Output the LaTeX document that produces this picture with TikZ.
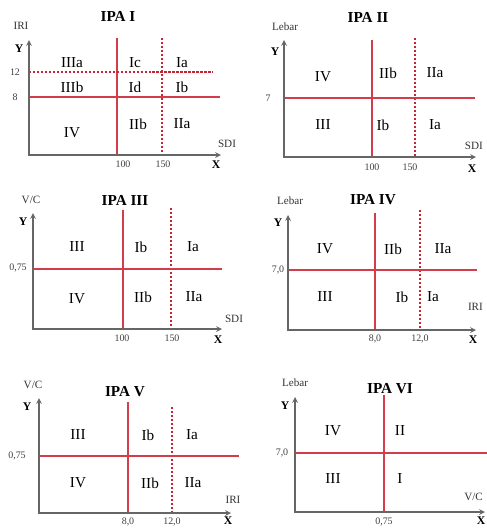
\documentclass[tikz,border=0pt]{standalone}
\usepackage{fontspec}
\setmainfont{Liberation Serif}
\definecolor{cutred}{RGB}{210,60,75}
\definecolor{dashred}{RGB}{200,35,55}
\begin{document}
\begin{tikzpicture}[x=0.03cm, y=-0.03cm, >=stealth,
    axis/.style={<->, draw=black!60, line width=1.2pt},
    cut/.style={draw=cutred, line width=1pt},
    cutd/.style={draw=dashred, line width=1pt, dash pattern=on 2pt off 1.4pt},
    ttl/.style={font=\fontsize{13}{15}\selectfont\bfseries},
    quad/.style={font=\fontsize{13}{15}\selectfont},
    lbl/.style={font=\fontsize{9.5}{11}\selectfont, text=black!80},
    xy/.style={font=\fontsize{10}{12}\selectfont\bfseries},
    tick/.style={font=\fontsize{8.5}{10}\selectfont, text=black!75}]
    \useasboundingbox (0,0) rectangle (487,529);

    % IPA I
    \node[ttl] (P1_title) at (118,16) {IPA I};
    \coordinate (P1_o) at (29,155);
    \coordinate (P1_y) at (29,40);
    \coordinate (P1_x) at (221,155);
    \coordinate (P1_v1) at (117,38);
    \coordinate (P1_v2) at (162,38);
    \coordinate (P1_h1) at (213,72);
    \coordinate (P1_h2) at (220,97);
    \draw[cut] (P1_v1) -- (P1_v1 |- P1_o);
    \draw[cutd] (P1_v2) -- (P1_v2 |- P1_o);
    \draw[cutd] (P1_o |- P1_h1) -- (P1_h1);
    \draw[cut] (P1_o |- P1_h2) -- (P1_h2);
    \draw[axis] (P1_y) |- (P1_x);
    \node[lbl] (P1_ylab) at (21,26) {IRI};
    \node[xy] (P1_Y) at (19,49) {Y};
    \node[lbl] (P1_xlab) at (227,144) {SDI};
    \node[xy] (P1_X) at (216,165) {X};
    \node[tick] (P1_t12) at (15,72) {12};
    \node[tick] (P1_t8) at (15,97) {8};
    \node[tick] (P1_t100) at (123,164) {100};
    \node[tick] (P1_t150) at (163,164) {150};
    \node[quad] (P1_IIIa) at (72,63) {IIIa};
    \node[quad] (P1_Ic) at (135,63) {Ic};
    \node[quad] (P1_Ia) at (182,63) {Ia};
    \node[quad] (P1_IIIb) at (72,87) {IIIb};
    \node[quad] (P1_Id) at (135,87) {Id};
    \node[quad] (P1_Ib) at (182,87) {Ib};
    \node[quad] (P1_IV) at (72,133) {IV};
    \node[quad] (P1_IIb) at (138,124) {IIb};
    \node[quad] (P1_IIa) at (182,124) {IIa};

    % IPA II
    \node[ttl] (P2_title) at (368,17) {IPA II};
    \coordinate (P2_o) at (284,157);
    \coordinate (P2_y) at (284,40);
    \coordinate (P2_x) at (476,157);
    \coordinate (P2_v1) at (372,40);
    \coordinate (P2_v2) at (415,38);
    \coordinate (P2_h) at (475,98);
    \draw[cut] (P2_v1) -- (P2_v1 |- P2_o);
    \draw[cutd] (P2_v2) -- (P2_v2 |- P2_o);
    \draw[cut] (P2_o |- P2_h) -- (P2_h);
    \draw[axis] (P2_y) |- (P2_x);
    \node[lbl] (P2_ylab) at (285,27) {Lebar};
    \node[xy] (P2_Y) at (275,52) {Y};
    \node[lbl, anchor=east] (P2_xlab) at (487,146) {SDI};
    \node[xy] (P2_X) at (472,169) {X};
    \node[tick] (P2_t7) at (268,98) {7};
    \node[tick] (P2_t100) at (372,167) {100};
    \node[tick] (P2_t150) at (410,167) {150};
    \node[quad] (P2_IV) at (323,77) {IV};
    \node[quad] (P2_IIb) at (388,73) {IIb};
    \node[quad] (P2_IIa) at (435,73) {IIa};
    \node[quad] (P2_III) at (323,125) {III};
    \node[quad] (P2_Ib) at (383,125) {Ib};
    \node[quad] (P2_Ia) at (435,125) {Ia};

    % IPA III
    \node[ttl] (P3_title) at (125,200) {IPA III};
    \coordinate (P3_o) at (33,329);
    \coordinate (P3_y) at (33,213);
    \coordinate (P3_x) at (222,329);
    \coordinate (P3_v1) at (123,210);
    \coordinate (P3_v2) at (171,208);
    \coordinate (P3_h) at (222,269);
    \draw[cut] (P3_v1) -- (P3_v1 |- P3_o);
    \draw[cutd] (P3_v2) -- (P3_v2 |- P3_o);
    \draw[cut] (P3_o |- P3_h) -- (P3_h);
    \draw[axis] (P3_y) |- (P3_x);
    \node[lbl] (P3_ylab) at (31,200) {V/C};
    \node[xy] (P3_Y) at (23,222) {Y};
    \node[lbl] (P3_xlab) at (234,319) {SDI};
    \node[xy] (P3_X) at (218,340) {X};
    \node[tick] (P3_t075) at (18,268) {0,75};
    \node[tick] (P3_t100) at (122,338) {100};
    \node[tick] (P3_t150) at (172,338) {150};
    \node[quad] (P3_III) at (77,247) {III};
    \node[quad] (P3_Ib) at (141,247) {Ib};
    \node[quad] (P3_Ia) at (193,247) {Ia};
    \node[quad] (P3_IV) at (77,299) {IV};
    \node[quad] (P3_IIb) at (143,297) {IIb};
    \node[quad] (P3_IIa) at (194,297) {IIa};

    % IPA IV
    \node[ttl] (P4_title) at (373,200) {IPA IV};
    \coordinate (P4_o) at (288,330);
    \coordinate (P4_y) at (288,215);
    \coordinate (P4_x) at (476,330);
    \coordinate (P4_v1) at (375,213);
    \coordinate (P4_v2) at (420,210);
    \coordinate (P4_h) at (477,270);
    \draw[cut] (P4_v1) -- (P4_v1 |- P4_o);
    \draw[cutd] (P4_v2) -- (P4_v2 |- P4_o);
    \draw[cut] (P4_o |- P4_h) -- (P4_h);
    \draw[axis] (P4_y) |- (P4_x);
    \node[lbl] (P4_ylab) at (290,201) {Lebar};
    \node[xy] (P4_Y) at (278,223) {Y};
    \node[lbl, anchor=east] (P4_xlab) at (487,307) {IRI};
    \node[xy] (P4_X) at (473,340) {X};
    \node[tick] (P4_t70) at (278,270) {7,0};
    \node[tick] (P4_t8) at (375,339) {8,0};
    \node[tick] (P4_t12) at (420,339) {12,0};
    \node[quad] (P4_IV) at (325,249) {IV};
    \node[quad] (P4_IIb) at (393,249) {IIb};
    \node[quad] (P4_IIa) at (443,249) {IIa};
    \node[quad] (P4_III) at (325,297) {III};
    \node[quad] (P4_Ib) at (402,297) {Ib};
    \node[quad] (P4_Ia) at (433,297) {Ia};

    % IPA V
    \node[ttl] (P5_title) at (125,392) {IPA V};
    \coordinate (P5_o) at (39,513);
    \coordinate (P5_y) at (39,398);
    \coordinate (P5_x) at (231,513);
    \coordinate (P5_v1) at (128,402);
    \coordinate (P5_v2) at (172,407);
    \coordinate (P5_h) at (239,456);
    \draw[cut] (P5_v1) -- (P5_v1 |- P5_o);
    \draw[cutd] (P5_v2) -- (P5_v2 |- P5_o);
    \draw[cut] (P5_o |- P5_h) -- (P5_h);
    \draw[axis] (P5_y) |- (P5_x);
    \node[lbl] (P5_ylab) at (33,385) {V/C};
    \node[xy] (P5_Y) at (27,407) {Y};
    \node[lbl] (P5_xlab) at (233,500) {IRI};
    \node[xy] (P5_X) at (228,521) {X};
    \node[tick] (P5_t075) at (17,456) {0,75};
    \node[tick] (P5_t8) at (128,522) {8,0};
    \node[tick] (P5_t12) at (172,522) {12,0};
    \node[quad] (P5_III) at (78,435) {III};
    \node[quad] (P5_Ib) at (148,435) {Ib};
    \node[quad] (P5_Ia) at (192,435) {Ia};
    \node[quad] (P5_IV) at (78,483) {IV};
    \node[quad] (P5_IIb) at (150,483) {IIb};
    \node[quad] (P5_IIa) at (193,483) {IIa};

    % IPA VI
    \node[ttl] (P6_title) at (390,389) {IPA VI};
    \coordinate (P6_o) at (295,512);
    \coordinate (P6_y) at (295,397);
    \coordinate (P6_x) at (485,512);
    \coordinate (P6_v) at (384,395);
    \coordinate (P6_h) at (487,453);
    \draw[cut] (P6_v) -- (P6_v |- P6_o);
    \draw[cut] (P6_o |- P6_h) -- (P6_h);
    \draw[axis] (P6_y) |- (P6_x);
    \node[lbl] (P6_ylab) at (295,383) {Lebar};
    \node[xy] (P6_Y) at (285,406) {Y};
    \node[lbl, anchor=east] (P6_xlab) at (487,497) {V/C};
    \node[xy] (P6_X) at (481,521) {X};
    \node[tick] (P6_t70) at (282,453) {7,0};
    \node[tick] (P6_t075) at (384,522) {0,75};
    \node[quad] (P6_IV) at (333,431) {IV};
    \node[quad] (P6_II) at (400,431) {II};
    \node[quad] (P6_III) at (333,479) {III};
    \node[quad] (P6_I) at (400,479) {I};
\end{tikzpicture}
\end{document}
